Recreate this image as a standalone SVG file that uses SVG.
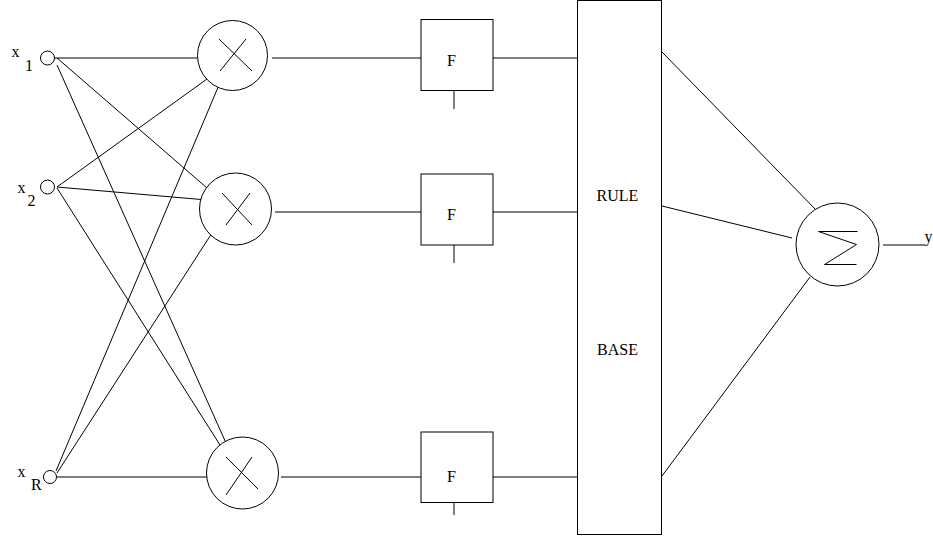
<svg xmlns="http://www.w3.org/2000/svg" width="933" height="537" viewBox="0 0 933 537">
<style>
.s{fill:none;stroke:#000;stroke-width:1}
.n{fill:#fff;stroke:#000;stroke-width:1}
.t{font-family:"Liberation Serif","Times New Roman",serif;font-size:16px;fill:#000}
.c{text-anchor:middle}
</style>
<rect width="933" height="537" fill="#fff"/>
<g id="connectors" class="s">
<line x1="55" y1="58" x2="197" y2="58"/>
<line x1="57" y1="58" x2="207" y2="188"/>
<line x1="57" y1="65" x2="226" y2="443"/>
<line x1="57" y1="187" x2="207" y2="79"/>
<line x1="57" y1="187" x2="207" y2="200"/>
<line x1="57" y1="188" x2="220" y2="445"/>
<line x1="56" y1="471" x2="219" y2="85"/>
<line x1="57" y1="473" x2="212" y2="233"/>
<line x1="57" y1="477" x2="207" y2="477"/>
<line x1="272" y1="58" x2="421" y2="58"/>
<line x1="275" y1="212" x2="421" y2="212"/>
<line x1="281" y1="477" x2="421" y2="477"/>
<line x1="493" y1="58" x2="577" y2="58"/>
<line x1="493" y1="212" x2="577" y2="212"/>
<line x1="493" y1="477" x2="577" y2="477"/>
<line x1="662" y1="52" x2="817" y2="211"/>
<line x1="662" y1="206" x2="792" y2="238"/>
<line x1="662" y1="476" x2="810" y2="277"/>
<line x1="883" y1="245" x2="925" y2="245"/>
</g>
<g id="x1">
<circle class="n" cx="47.5" cy="58" r="7"/>
<text class="t" x="11.5" y="57">x</text>
<text class="t" x="25" y="71">1</text>
</g>
<g id="x2">
<circle class="n" cx="47.5" cy="187" r="7"/>
<text class="t" x="17.5" y="193">x</text>
<text class="t" x="27.5" y="206">2</text>
</g>
<g id="xR">
<circle class="n" cx="50" cy="477" r="6.5"/>
<text class="t" x="17.5" y="477">x</text>
<text class="t" x="31" y="490">R</text>
</g>
<g id="mult1">
<circle class="n" cx="232.5" cy="55.5" r="35"/>
<path class="s" d="M219 39L252 71M246 39L220 71"/>
</g>
<g id="mult2">
<circle class="n" cx="235.5" cy="209" r="36"/>
<path class="s" d="M222 193L252 225M250 193L226 225"/>
</g>
<g id="mult3">
<circle class="n" cx="242.5" cy="473" r="36"/>
<path class="s" d="M226 457L258 489M252 457L226 495"/>
</g>
<g id="f1">
<rect class="n" x="421" y="19.5" width="72" height="71"/>
<text class="t c" x="451.5" y="66">F</text>
<line class="s" x1="454" y1="90.5" x2="454" y2="109"/>
</g>
<g id="f2">
<rect class="n" x="421" y="174" width="72" height="71"/>
<text class="t c" x="451.5" y="220">F</text>
<line class="s" x1="454" y1="245" x2="454" y2="263"/>
</g>
<g id="f3">
<rect class="n" x="421" y="432" width="72" height="70.5"/>
<text class="t c" x="451.5" y="482">F</text>
<line class="s" x1="454" y1="502.5" x2="454" y2="515"/>
</g>
<g id="rulebase">
<rect class="n" x="577.5" y="0.5" width="84" height="534"/>
<text class="t c" x="617.5" y="201">RULE</text>
<text class="t c" x="617.5" y="355">BASE</text>
</g>
<g id="sum">
<circle class="n" cx="837.5" cy="244.5" r="41.5"/>
<path class="s" d="M857.5 231.5H818.5L856.5 244.5L824.5 264.5H856.5"/>
</g>
<g id="y">
<text class="t" x="924.5" y="242">y</text>
</g>
</svg>
